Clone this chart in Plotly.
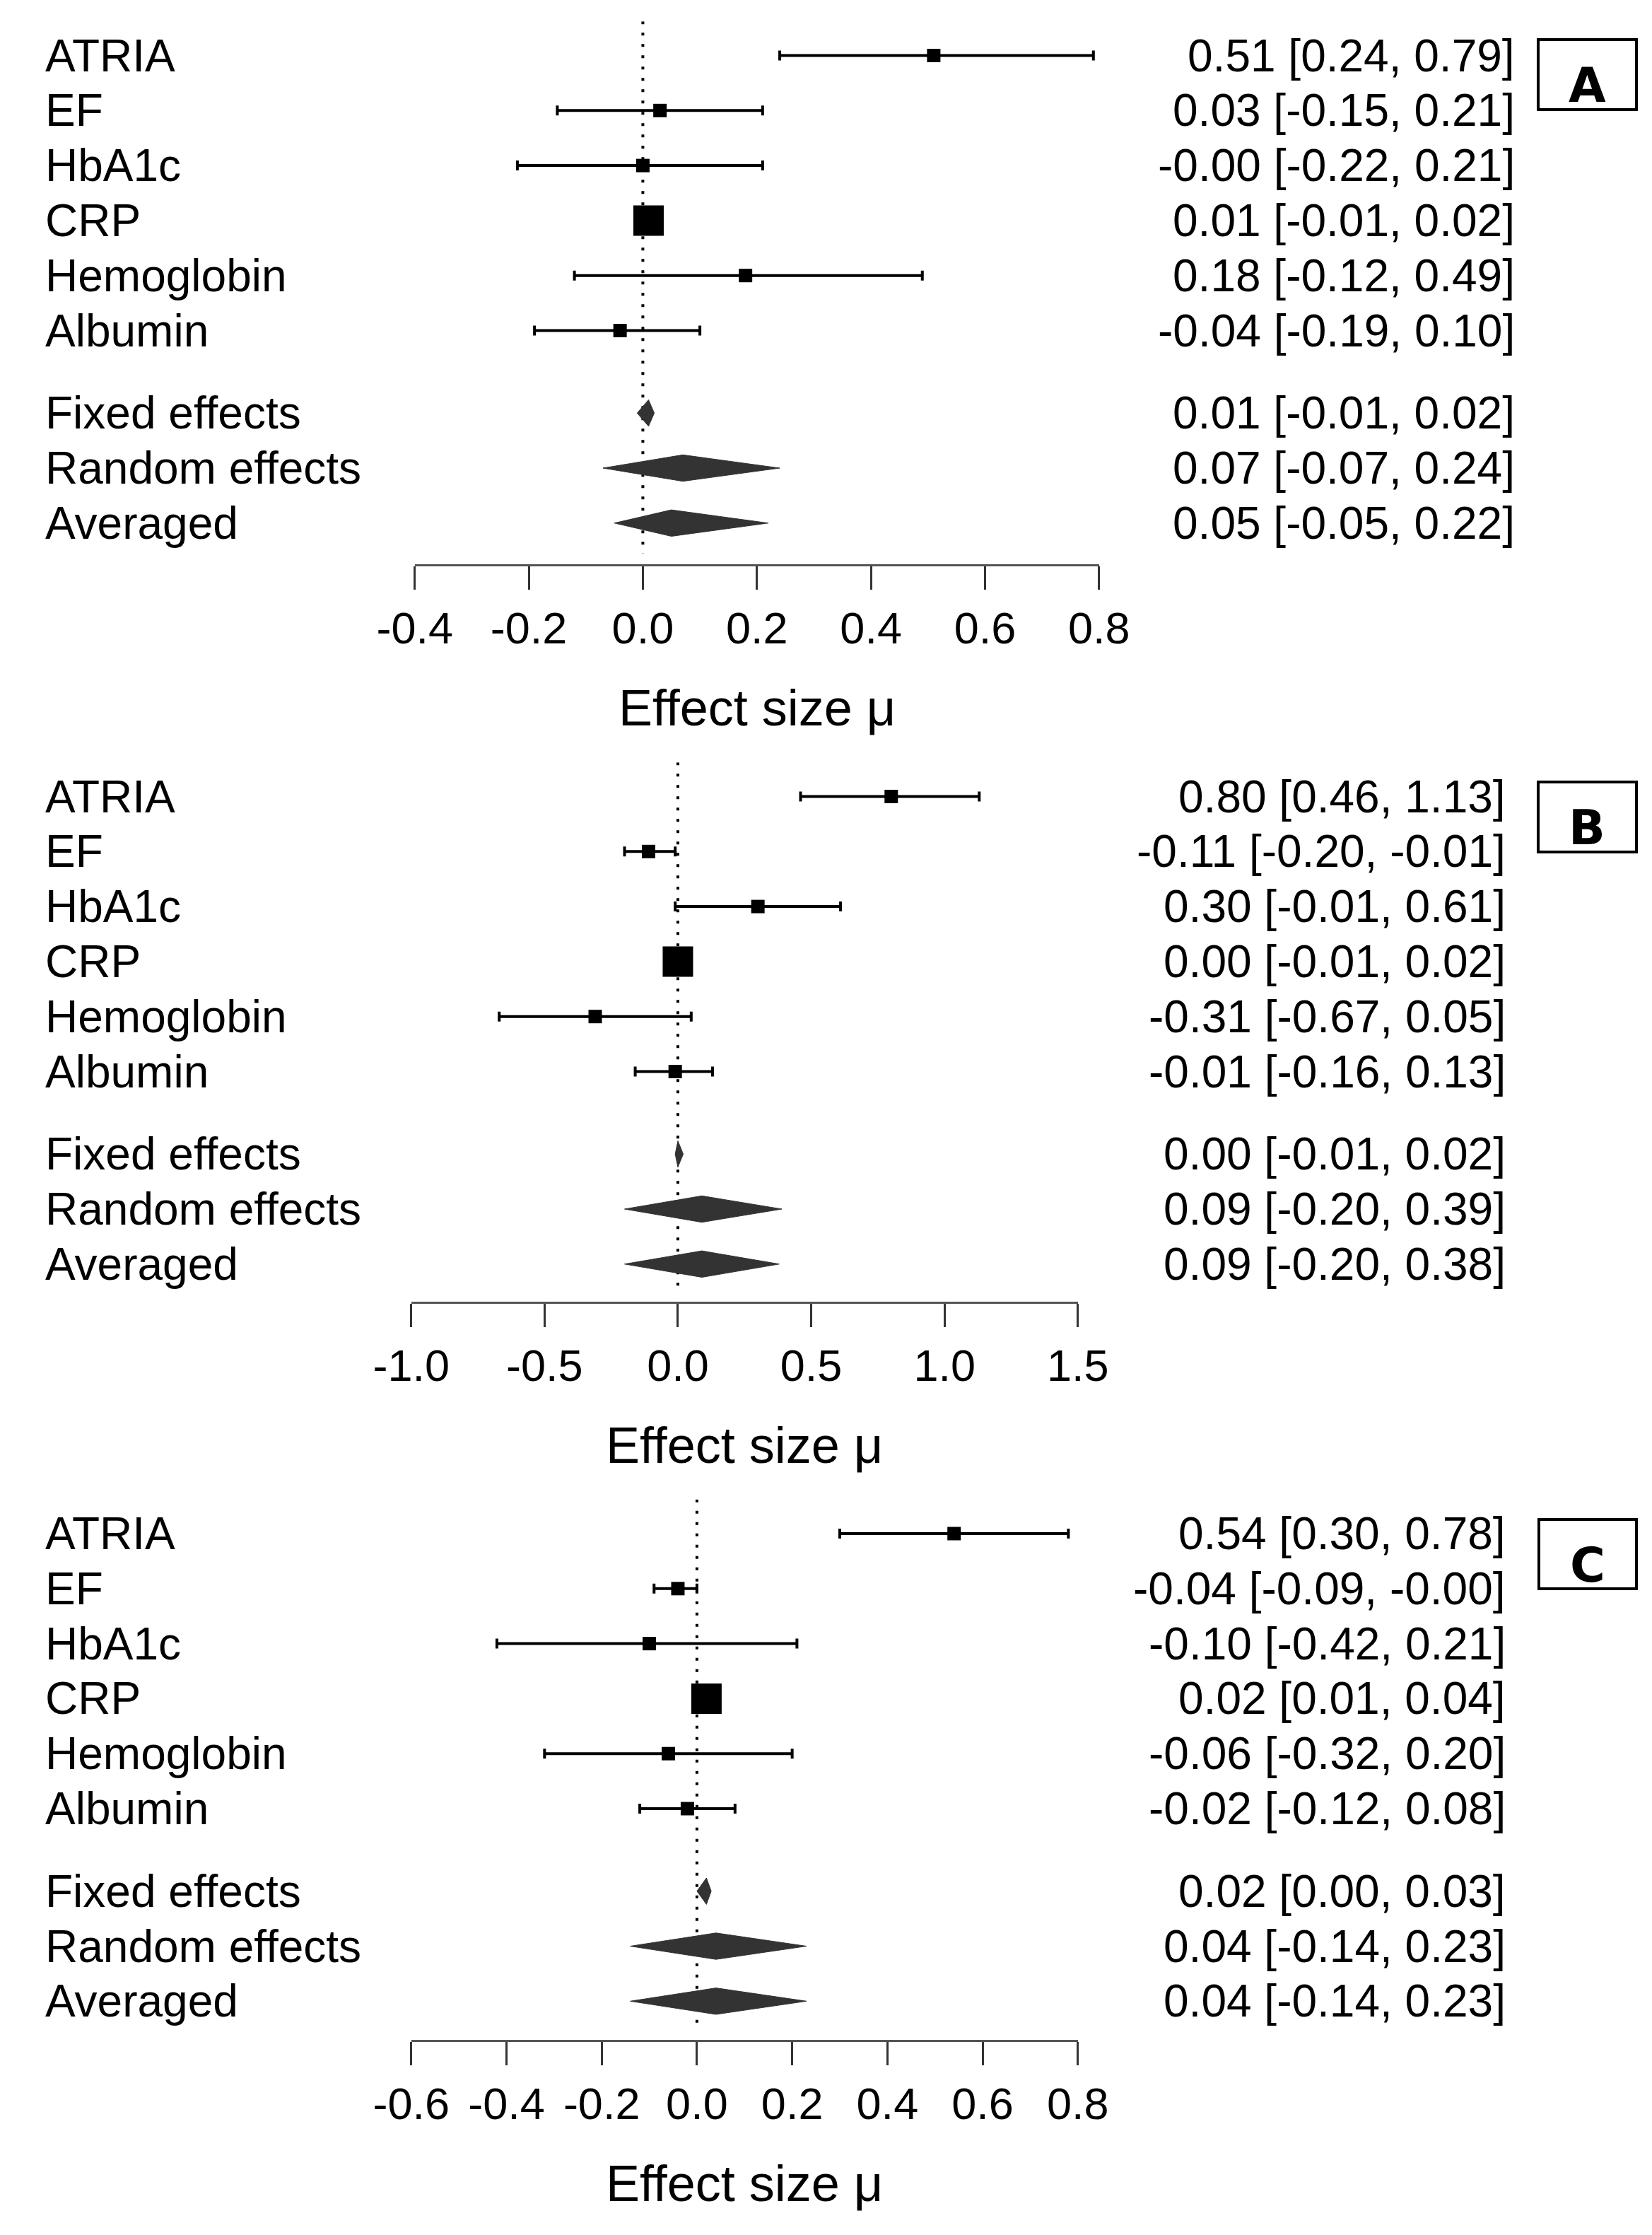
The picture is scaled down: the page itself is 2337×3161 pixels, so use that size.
import plotly.graph_objects as go

W, H = 2337, 3161

study_labels = ["ATRIA", "EF", "HbA1c", "CRP", "Hemoglobin", "Albumin"]
summary_labels = ["Fixed effects", "Random effects", "Averaged"]

# panel A
a_est = [0.51, 0.03, -0.0, 0.01, 0.18, -0.04]
a_lo = [0.24, -0.15, -0.22, -0.01, -0.12, -0.19]
a_hi = [0.79, 0.21, 0.21, 0.02, 0.49, 0.10]
a_sum_est = [0.01, 0.07, 0.05]
a_sum_lo = [-0.01, -0.07, -0.05]
a_sum_hi = [0.02, 0.24, 0.22]
a_ticks = [-0.4, -0.2, 0.0, 0.2, 0.4, 0.6, 0.8]

# panel B
b_est = [0.80, -0.11, 0.30, 0.00, -0.31, -0.01]
b_lo = [0.46, -0.20, -0.01, -0.01, -0.67, -0.16]
b_hi = [1.13, -0.01, 0.61, 0.02, 0.05, 0.13]
b_sum_est = [0.00, 0.09, 0.09]
b_sum_lo = [-0.01, -0.20, -0.20]
b_sum_hi = [0.02, 0.39, 0.38]
b_ticks = [-1.0, -0.5, 0.0, 0.5, 1.0, 1.5]

# panel C
c_est = [0.54, -0.04, -0.10, 0.02, -0.06, -0.02]
c_lo = [0.30, -0.09, -0.42, 0.01, -0.32, -0.12]
c_hi = [0.78, -0.0, 0.21, 0.04, 0.20, 0.08]
c_sum_est = [0.02, 0.04, 0.04]
c_sum_lo = [0.00, -0.14, -0.14]
c_sum_hi = [0.03, 0.23, 0.23]
c_ticks = [-0.6, -0.4, -0.2, 0.0, 0.2, 0.4, 0.6, 0.8]

panel_letters = ["A", "B", "C"]

# square sizes (px), CRP carries most weight
sq_size = [19, 19, 19, 43, 19, 19]

FONT = "Liberation Sans, Arial, sans-serif"
ROW = 77.8
study_rows = [0, 1, 2, 3, 4, 5]
summary_rows = [6.5, 7.5, 8.5]
TOP_ROW = -0.62

# the page shows the paper a bit inset and narrower; map target pixel -> paper fraction
OX, LW = 60.4, 2238.6
OY, LH = 10.0, 3161.0


def fx(px):
    return max(0.0, (px - OX) / LW)


def fy(px):
    return 1 - (px - OY) / LH


panels = [
    dict(est=a_est, lo=a_lo, hi=a_hi, s_est=a_sum_est, s_lo=a_sum_lo, s_hi=a_sum_hi,
         ticks=a_ticks, first_px=80.5, axis_px=800, x_px=(585, 1553), right_px=2143,
         box=(2174, 58, 2313, 157)),
    dict(est=b_est, lo=b_lo, hi=b_hi, s_est=b_sum_est, s_lo=b_sum_lo, s_hi=b_sum_hi,
         ticks=b_ticks, first_px=1128.5, axis_px=1843, x_px=(580, 1523), right_px=2130,
         box=(2174, 1108, 2313, 1207)),
    dict(est=c_est, lo=c_lo, hi=c_hi, s_est=c_sum_est, s_lo=c_sum_lo, s_hi=c_sum_hi,
         ticks=c_ticks, first_px=2171, axis_px=2887, x_px=(580, 1523), right_px=2130,
         box=(2175, 2151, 2313, 2249)),
]


def fmt(e, l, h):
    return f"{e:.2f} [{l:.2f}, {h:.2f}]"


fig = go.Figure()
annotations = []
shapes = []

for i, p in enumerate(panels):
    n = "" if i == 0 else str(i + 1)
    xa, ya = "x" + n, "y" + n
    bottom_row = (p["axis_px"] - p["first_px"]) / ROW
    top_px = p["first_px"] + TOP_ROW * ROW

    # reference line at zero
    fig.add_trace(go.Scatter(
        x=[0, 0], y=[TOP_ROW, bottom_row - 0.2], mode="lines",
        line=dict(color="black", width=4, dash="4px,12px"),
        xaxis=xa, yaxis=ya, showlegend=False, hoverinfo="skip"))

    # confidence intervals
    fig.add_trace(go.Scatter(
        x=p["est"], y=study_rows, mode="markers",
        marker=dict(size=1, color="black", opacity=1),
        error_x=dict(type="data", symmetric=False,
                     array=[h - e for h, e in zip(p["hi"], p["est"])],
                     arrayminus=[e - l for e, l in zip(p["est"], p["lo"])],
                     color="black", thickness=4, width=7),
        xaxis=xa, yaxis=ya, showlegend=False, cliponaxis=False))

    # point estimates
    fig.add_trace(go.Scatter(
        x=p["est"], y=study_rows, mode="markers",
        marker=dict(symbol="square", size=sq_size, color="black", opacity=1,
                    line=dict(width=0)),
        xaxis=xa, yaxis=ya, showlegend=False, cliponaxis=False))

    # summary diamonds
    for r, e, l, h in zip(summary_rows, p["s_est"], p["s_lo"], p["s_hi"]):
        fig.add_trace(go.Scatter(
            x=[l, e, h, e, l], y=[r, r - 0.24, r, r + 0.24, r],
            mode="lines", fill="toself", fillcolor="#333333",
            line=dict(color="#333333", width=1),
            xaxis=xa, yaxis=ya, showlegend=False, hoverinfo="skip"))

    fig.update_layout({
        "xaxis" + n: dict(
            domain=[fx(p["x_px"][0]), fx(p["x_px"][1])],
            range=[p["ticks"][0], p["ticks"][-1]], anchor=ya,
            tickmode="array", tickvals=p["ticks"],
            ticktext=[f"{t:.1f}" for t in p["ticks"]],
            ticks="outside", ticklen=33, tickwidth=2.5, tickcolor="#333333",
            showline=True, linecolor="#555555", linewidth=3,
            showgrid=False, zeroline=False, ticklabelstandoff=0,
            tickfont=dict(family=FONT, size=63, color="black")),
        "yaxis" + n: dict(
            domain=[fy(p["axis_px"]), fy(top_px)],
            range=[bottom_row, TOP_ROW], anchor=xa, visible=False),
    })

    # row labels and estimate text
    all_rows = study_rows + summary_rows
    all_labels = study_labels + summary_labels
    all_text = [fmt(e, l, h) for e, l, h in zip(p["est"], p["lo"], p["hi"])] + \
               [fmt(e, l, h) for e, l, h in zip(p["s_est"], p["s_lo"], p["s_hi"])]
    for r, lab, txt in zip(all_rows, all_labels, all_text):
        annotations.append(dict(x=fx(43), xref="paper", y=r, yref=ya, text=lab,
                                xanchor="left", yanchor="middle", showarrow=False,
                                font=dict(family=FONT, size=64, color="black")))
        annotations.append(dict(x=fx(p["right_px"]), xref="paper", y=r, yref=ya, text=txt,
                                xanchor="right", yanchor="middle", showarrow=False,
                                font=dict(family=FONT, size=64, color="black")))

    # axis title
    annotations.append(dict(x=0.5, xref=xa + " domain", y=fy(p["axis_px"] + 203),
                            yref="paper", text="Effect size μ", showarrow=False,
                            xanchor="center", yanchor="middle",
                            font=dict(family=FONT, size=72, color="black")))

    # panel letter box
    x0, y0, x1, y1 = p["box"]
    shapes.append(dict(type="rect", xref="paper", yref="paper",
                       x0=fx(x0), x1=fx(x1), y0=fy(y0), y1=fy(y1),
                       line=dict(color="black", width=4)))
    annotations.append(dict(x=fx((x0 + x1) / 2), xref="paper",
                            y=fy((y0 + y1) / 2 + 15), yref="paper",
                            text="<b>" + panel_letters[i] + "</b>", showarrow=False,
                            xanchor="center", yanchor="middle",
                            font=dict(family="DejaVu Sans", size=68, color="black")))

fig.update_layout(
    width=W, height=H, autosize=False,
    margin=dict(l=0, r=0, t=0, b=0),
    paper_bgcolor="white", plot_bgcolor="white",
    annotations=annotations, shapes=shapes,
)

fig.write_html("out.html")
